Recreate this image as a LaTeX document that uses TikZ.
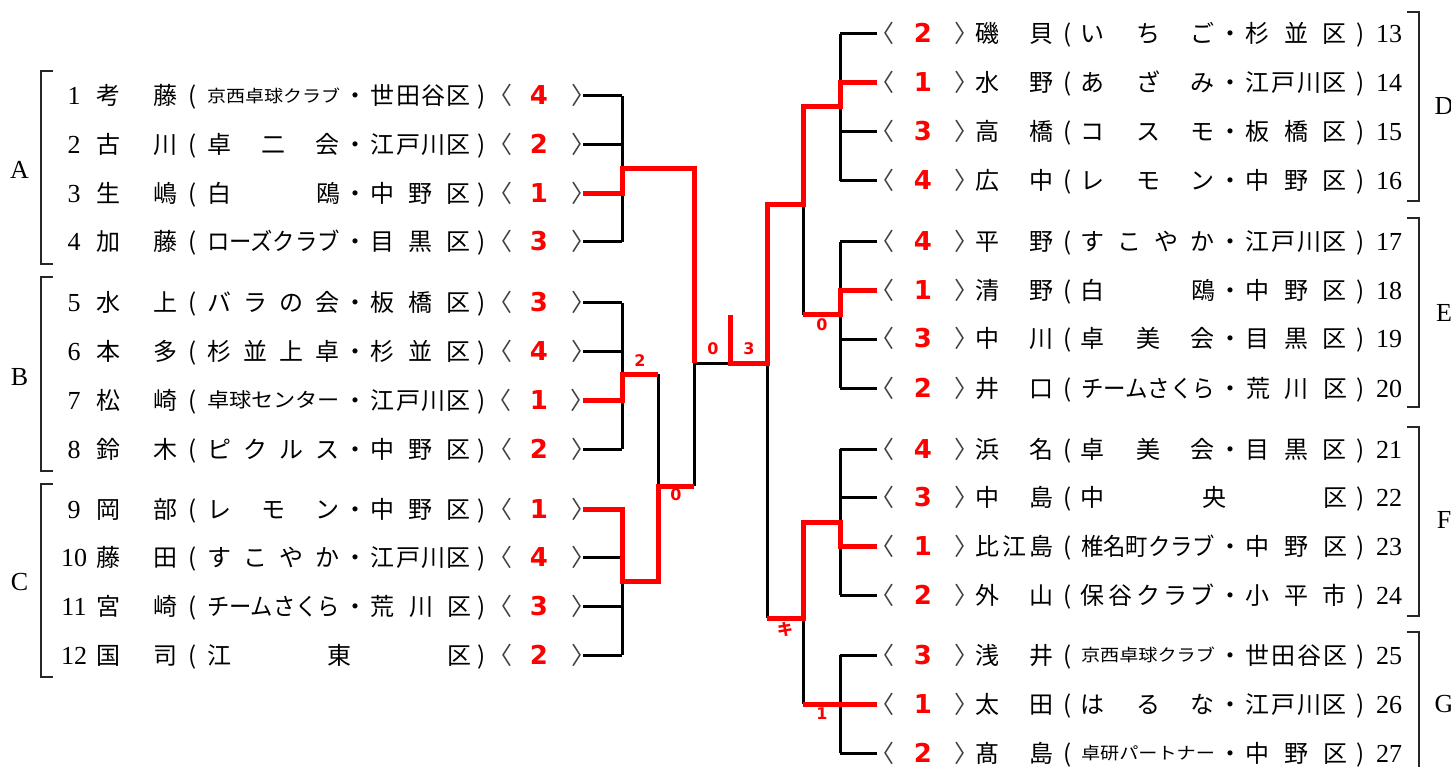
\documentclass[tikz,border=0pt]{standalone}
\usepackage{fontspec}
\usepackage{graphicx}
\newfontfamily\jp{Noto Sans CJK JP}
\newfontfamily\numfont{Liberation Serif}
\newfontfamily\scorefont{DejaVu Sans}
\def\spreadA#1#2{#1\ifx\relax#2\else\hfill\expandafter\spreadA\expandafter#2\fi}
\newcommand\spr[2]{\makebox[#1]{\spreadA#2\relax}}
\newcommand\fitbox[3]{\raisebox{\dimexpr(24pt-#2pt)*38/100\relax}{\resizebox{#1}{\height}{\fontsize{#2}{#2}\selectfont #3}}}
\newcommand\LCD[2]{#1\makebox[31pt]{・}\spr{100pt}{#2}}
\newcommand\RCD[2]{#1\makebox[31pt]{・}\spr{101pt}{#2}}
\newcommand\Lc[1]{\spr{133pt}{#1}}
\newcommand\Rc[1]{\spr{134pt}{#1}}
\newcommand\scoretxt[1]{{\scorefont\bfseries\fontsize{26}{28}\selectfont\color{red}#1}}
\newcommand\numtxt[1]{{\numfont\fontsize{26}{28}\selectfont #1}}
\newcommand\ang[2]{{\color{black!75}\kern#1\relax #2\kern-#1\relax}}
\newcommand\Lrow[5]{\node[rowtext] (L#1) at (60,#2+9) {\makebox[28pt]{\numtxt{#1}}\hspace*{8pt}\spr{82pt}{#3}\makebox[29pt]{(}#4\makebox[22pt]{)}\makebox[22pt]{\ang{-4pt}{〈}}\makebox[48pt]{\scoretxt{#5}}\makebox[20pt]{\ang{10pt}{〉}}};}
\newcommand\Rrow[5]{\node[rowtext] (R#1) at (877,#2+9) {\makebox[20pt]{\ang{-5pt}{〈}}\makebox[52pt]{\scoretxt{#5}}\makebox[22pt]{\ang{6pt}{〉}}\hspace*{4pt}\spr{79pt}{#3}\makebox[27pt]{(}#4\makebox[28pt]{)}\makebox[28pt]{\numtxt{#1}}};}
\begin{document}
\begin{tikzpicture}[x=1pt,y=-1pt,
  rowtext/.style={anchor=base west,inner sep=0pt,outer sep=0pt,font=\jp\fontsize{24}{28}\selectfont},
  blk/.style={line width=3pt,black},
  win/.style={line width=5pt,red},
  brk/.style={line width=1.6pt,black!85},
  grp/.style={font=\numfont\fontsize{26}{28}\selectfont,inner sep=0pt},
  lbl/.style={font=\scorefont\bfseries\fontsize{16}{17}\selectfont,text=red,inner sep=0pt},
  lblj/.style={font=\jp\bfseries\fontsize{16}{17}\selectfont,text=red,inner sep=0pt}]
\useasboundingbox (0,0) rectangle (1451,767);

% ---------- left entries ----------
\Lrow{1}{96}{考藤}{\LCD{\fitbox{133pt}{17}{京西卓球クラブ}}{世田谷区}}{4}
\Lrow{2}{144.7}{古川}{\LCD{\Lc{卓二会}}{江戸川区}}{2}
\Lrow{3}{193.3}{生嶋}{\LCD{\Lc{白鴎}}{中野区}}{1}
\Lrow{4}{242}{加藤}{\LCD{\fitbox{133pt}{24}{ローズクラブ}}{目黒区}}{3}
\Lrow{5}{303}{水上}{\LCD{\Lc{バラの会}}{板橋区}}{3}
\Lrow{6}{351.7}{本多}{\LCD{\Lc{杉並上卓}}{杉並区}}{4}
\Lrow{7}{400.3}{松崎}{\LCD{\fitbox{133pt}{20}{卓球センター}}{江戸川区}}{1}
\Lrow{8}{449}{鈴木}{\LCD{\Lc{ピクルス}}{中野区}}{2}
\Lrow{9}{509}{岡部}{\LCD{\Lc{レモン}}{中野区}}{1}
\Lrow{10}{557.7}{藤田}{\LCD{\Lc{すこやか}}{江戸川区}}{4}
\Lrow{11}{606.3}{宮崎}{\LCD{\fitbox{133pt}{24}{チームさくら}}{荒川区}}{3}
\Lrow{12}{655}{国司}{\spr{264pt}{江東区}}{2}

% ---------- right entries ----------
\Rrow{13}{34}{磯貝}{\RCD{\Rc{いちご}}{杉並区}}{2}
\Rrow{14}{83}{水野}{\RCD{\Rc{あざみ}}{江戸川区}}{1}
\Rrow{15}{132}{高橋}{\RCD{\Rc{コスモ}}{板橋区}}{3}
\Rrow{16}{181}{広中}{\RCD{\Rc{レモン}}{中野区}}{4}
\Rrow{17}{242}{平野}{\RCD{\Rc{すこやか}}{江戸川区}}{4}
\Rrow{18}{291}{清野}{\RCD{\Rc{白鴎}}{中野区}}{1}
\Rrow{19}{339}{中川}{\RCD{\Rc{卓美会}}{目黒区}}{3}
\Rrow{20}{388}{井口}{\RCD{\fitbox{134pt}{24}{チームさくら}}{荒川区}}{2}
\Rrow{21}{449}{浜名}{\RCD{\Rc{卓美会}}{目黒区}}{4}
\Rrow{22}{497}{中島}{\spr{266pt}{中央区}}{3}
\Rrow{23}{546}{比江島}{\RCD{\fitbox{134pt}{24}{椎名町クラブ}}{中野区}}{1}
\Rrow{24}{595}{外山}{\RCD{\Rc{保谷クラブ}}{小平市}}{2}
\Rrow{25}{655}{浅井}{\RCD{\fitbox{134pt}{17}{京西卓球クラブ}}{世田谷区}}{3}
\Rrow{26}{704}{太田}{\RCD{\Rc{はるな}}{江戸川区}}{1}
\Rrow{27}{753}{髙島}{\RCD{\fitbox{134pt}{17}{卓研パートナー}}{中野区}}{2}

% ---------- group brackets and letters ----------
\draw[brk] (53,71) -- (41,71) -- (41,264) -- (53,264);
\draw[brk] (53,277) -- (41,277) -- (41,471) -- (53,471);
\draw[brk] (53,484) -- (41,484) -- (41,677) -- (53,677);
\draw[brk] (1407,12) -- (1419,12) -- (1419,201) -- (1407,201);
\draw[brk] (1407,218) -- (1419,218) -- (1419,407) -- (1407,407);
\draw[brk] (1407,427) -- (1419,427) -- (1419,616) -- (1407,616);
\draw[brk] (1407,632) -- (1419,632) -- (1419,770);
\node[grp] (gA) at (19.5,170) {A};
\node[grp] (gB) at (19.5,377) {B};
\node[grp] (gC) at (19.5,582) {C};
\node[grp] (gD) at (1444,106) {D};
\node[grp] (gE) at (1444,313) {E};
\node[grp] (gF) at (1444,520) {F};
\node[grp] (gG) at (1444,704) {G};

% ---------- coordinates ----------
\foreach \i/\y in {1/96,2/144.7,3/193.3,4/242,5/303,6/351.7,7/400.3,8/449,9/509,10/557.7,11/606.3,12/655}
  \coordinate (a\i) at (583,\y);
\foreach \i/\y in {13/34,14/83,15/132,16/181,17/242,18/291,19/339,20/388,21/449,22/497,23/546,24/595,25/655,26/704,27/753}
  \coordinate (b\i) at (877,\y);
\coordinate (xl1) at (622,0);
\coordinate (xl2) at (658,0);
\coordinate (xl3) at (694,0);
\coordinate (xc) at (730,0);
\coordinate (xr3) at (767,0);
\coordinate (xr2) at (803,0);
\coordinate (xr1) at (840,0);
\coordinate (mA) at (622,169);
\coordinate (mB) at (622,374);
\coordinate (mC) at (622,581);
\coordinate (mBC) at (658,486);
\coordinate (mF) at (694,363);
\coordinate (mT) at (730,315);
\coordinate (mD) at (840,107);
\coordinate (mE) at (840,315);
\coordinate (mG) at (840,522);
\coordinate (mDE) at (767,205);
\coordinate (mFG) at (767,618);

% ---------- black bracket ----------
\foreach \i in {1,...,12} \draw[blk] (a\i) -- (a\i -| xl1);
\foreach \i in {13,...,27} \draw[blk] (b\i) -- (b\i -| xr1);
\draw[blk] (a1 -| xl1) -- (a4 -| xl1);
\draw[blk] (a5 -| xl1) -- (a8 -| xl1);
\draw[blk] (a9 -| xl1) -- (a12 -| xl1);
\draw[blk] (xl2 |- mB) -- (xl2 |- mC);
\draw[blk] (xl3 |- mA) -- (xl3 |- mBC);
\draw[blk] (mF) -- (xc |- mF);
\draw[blk] (b13 -| xr1) -- (b16 -| xr1);
\draw[blk] (b17 -| xr1) -- (b20 -| xr1);
\draw[blk] (b21 -| xr1) -- (b24 -| xr1);
\draw[blk] (b25 -| xr1) -- (b27 -| xr1);
\draw[blk] (xr2 |- mD) -- (xr2 |- mE);
\draw[blk] (xr2 |- mG) -- (xr2 |- b26);
\draw[blk] (mDE) -- (mFG);

% ---------- winners (red) ----------
\draw[win] (a3) -| (mA) -| (mF);
\draw[win] (a7) -| (mB) -- (xl2 |- mB);
\draw[win] (a9) -| (mC) -- (xl2 |- mC) -- (mBC) -- (xl3 |- mBC);
\draw[win] (mT) -- (xc |- mF) -| (mDE) -| (xr2 |- mD) -| (b14 -| xr1) -- (b14);
\draw[win] (b18) -| (mE) -- (xr2 |- mE);
\draw[win] (b23) -| (mG) -- (xr2 |- mG) -- (xr2 |- mFG) -- (mFG);
\draw[win] (b26) -- (xr2 |- b26);

% ---------- match scores ----------
\node[lbl] (s1) at (640,361) {2};
\node[lbl] (s2) at (676,495) {0};
\node[lbl] (s3) at (713,349) {0};
\node[lbl] (s4) at (749,349) {3};
\node[lbl] (s5) at (822,325) {0};
\node[lblj] (s6) at (785,629) {キ};
\node[lbl] (s7) at (822,714) {1};
\end{tikzpicture}
\end{document}
